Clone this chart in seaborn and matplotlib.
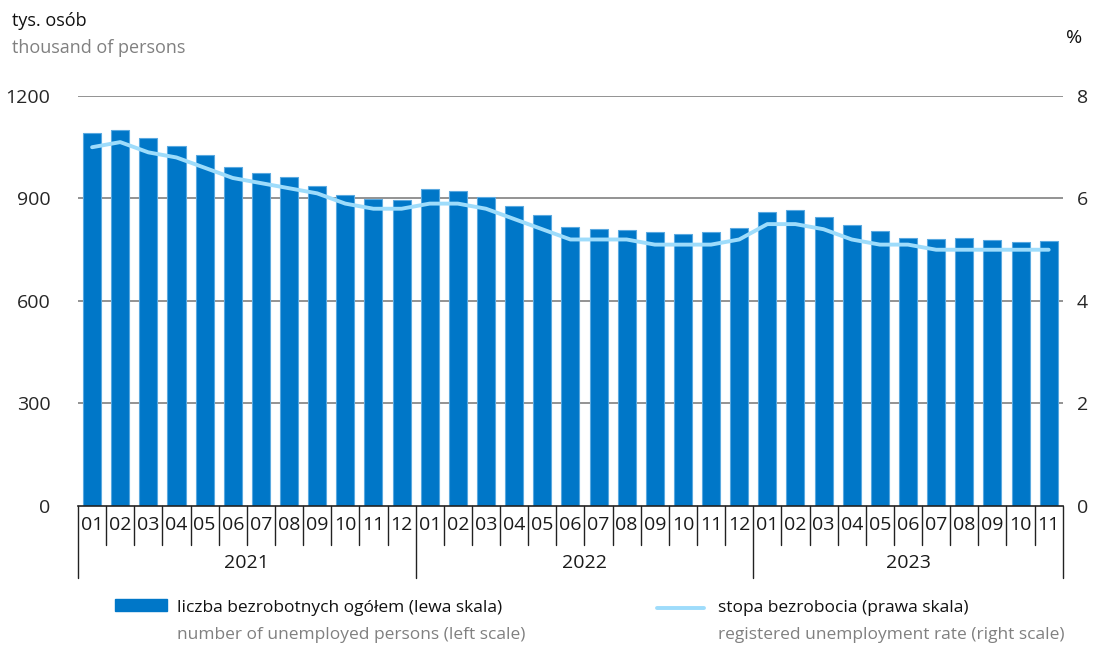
import numpy as np
import pandas as pd
import matplotlib
matplotlib.use("Agg")
import matplotlib.pyplot as plt
import matplotlib.transforms as mtransforms
from matplotlib.patches import Rectangle
from matplotlib.lines import Line2D
import seaborn as sns

# dane
years = ["2021", "2022", "2023"]
months = ["01", "02", "03", "04", "05", "06", "07", "08", "09", "10", "11", "12"]
unemployed = [1091, 1099, 1078, 1055, 1027, 993, 975, 962, 936, 910, 899, 896,
              928, 922, 903, 878, 852, 818, 811, 808, 802, 797, 802, 813,
              859, 865, 847, 822, 804, 784, 782, 783, 778, 772, 775]
rate = [7.0, 7.1, 6.9, 6.8, 6.6, 6.4, 6.3, 6.2, 6.1, 5.9, 5.8, 5.8,
        5.9, 5.9, 5.8, 5.6, 5.4, 5.2, 5.2, 5.2, 5.1, 5.1, 5.1, 5.2,
        5.5, 5.5, 5.4, 5.2, 5.1, 5.1, 5.0, 5.0, 5.0, 5.0, 5.0]

labels = []
year_of = []
for y in years:
    for m in months:
        labels.append(m)
        year_of.append(y)
labels = labels[:len(unemployed)]
year_of = year_of[:len(unemployed)]
n = len(unemployed)

df = pd.DataFrame({"pos": np.arange(n), "lab": labels, "year": year_of,
                   "unemployed": unemployed, "rate": rate})

sns.set_style("white")
plt.rcParams["font.family"] = ["Open Sans", "DejaVu Sans"]

BAR = "#0077c8"
LINE = "#9edcfb"
GREY = "#808080"
FS = 14

fig = plt.figure(figsize=(10.99, 6.45), dpi=100)
ax = fig.add_axes([0.071, 0.2155, 0.896, 0.6357])

sns.barplot(data=df, x="pos", y="unemployed", color=BAR, width=0.64,
            edgecolor="#5aa9e0", linewidth=0.8, saturation=1, ax=ax)
ax.set_xlim(-0.5, n - 0.5)
ax.set_ylim(0, 1200)
ax.set_yticks([0, 300, 600, 900, 1200])
ax.set_yticklabels(["0", "300", "600", "900", "1200"], fontsize=FS)
ax.tick_params(axis="y", length=0, pad=20)
ax.set_xticks([])
ax.set_xlabel("")
ax.set_ylabel("")
for s in ["top", "right", "left"]:
    ax.spines[s].set_visible(False)
ax.spines["bottom"].set_color("#222222")
ax.spines["bottom"].set_linewidth(1.2)
for v in [300, 600, 900, 1200]:
    ax.axhline(v, color="#8a8a8a", lw=1.3, zorder=0)

ax2 = ax.twinx()
sns.lineplot(data=df, x="pos", y="rate", color=LINE, lw=2.8, ax=ax2)
ax2.set_ylim(0, 8)
ax2.set_xlim(-0.5, n - 0.5)
ax2.set_yticks([0, 2, 4, 6, 8])
ax2.set_yticklabels(["0", "2", "4", "6", "8"], fontsize=FS)
ax2.tick_params(axis="y", length=0, pad=10)
ax2.set_ylabel("")
ax2.set_xlabel("")
for s in ["top", "right", "left", "bottom"]:
    ax2.spines[s].set_visible(False)

# os kategorii (miesiace / lata)
tr = mtransforms.blended_transform_factory(ax.transData, ax.transAxes)
for i in range(n + 1):
    x = i - 0.5
    long = (i % 12 == 0) or i == n
    ax.plot([x, x], [0, -0.176 if long else -0.095], transform=tr,
            color="#222222", lw=1.0, clip_on=False)
for i in range(n):
    ax.text(i, -0.046, labels[i], transform=tr, ha="center", va="center",
            fontsize=FS, color="#1a1a1a")
for k, y in enumerate(years):
    start = k * 12
    end = min(start + 12, n)
    ax.text((start + end - 1) / 2, -0.14, y, transform=tr, ha="center",
            va="center", fontsize=FS, color="#1a1a1a")

# opisy osi
fig.text(0.011, 0.968, "tys. osób", fontsize=13, color="#111111", va="center")
fig.text(0.011, 0.925, "thousand of persons", fontsize=13, color=GREY, va="center")
fig.text(0.977, 0.941, "%", fontsize=FS, color="#111111", va="center", ha="center")

# legenda
fig.patches.append(Rectangle((0.105, 0.053), 0.047, 0.018,
                             transform=fig.transFigure, color=BAR))
fig.text(0.161, 0.058, "liczba bezrobotnych ogółem (lewa skala)", fontsize=12.5,
         color="#111111", va="center")
fig.text(0.161, 0.016, "number of unemployed persons (left scale)", fontsize=12.5,
         color=GREY, va="center")
fig.lines.append(Line2D([0.598, 0.641], [0.058, 0.058], transform=fig.transFigure,
                        color=LINE, lw=2.8))
fig.text(0.653, 0.058, "stopa bezrobocia (prawa skala)", fontsize=12.5,
         color="#111111", va="center")
fig.text(0.653, 0.016, "registered unemployment rate (right scale)", fontsize=12.5,
         color=GREY, va="center")

fig.savefig("out.png", dpi=100)
